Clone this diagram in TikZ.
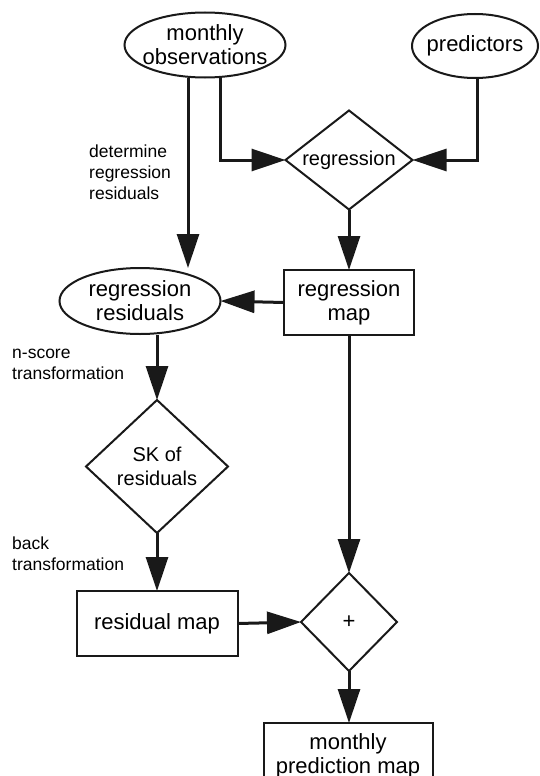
\documentclass[tikz,border=0pt]{standalone}
\usepackage{fontspec}
\setmainfont{Liberation Sans}
\usetikzlibrary{arrows.meta,shapes.geometric}
\begin{document}
\begin{tikzpicture}[x=1pt,y=-1pt,
  shp/.style={draw=black!90, line width=2pt, inner sep=0pt, outer sep=0pt},
  ell/.style={shp, ellipse},
  box/.style={shp, rectangle},
  dia/.style={shp, diamond},
  lab/.style={align=center, font=\fontsize{22}{24}\selectfont, inner sep=0pt},
  dlab/.style={align=center, font=\fontsize{20}{24}\selectfont, inner sep=0pt},
  note/.style={align=left, font=\fontsize{17.5}{21}\selectfont, inner sep=0pt, anchor=west},
  arr/.style={line width=3pt, draw=black!90, -{Triangle[length=34pt,width=22pt]}}
]
\useasboundingbox (0,0) rectangle (539,776);

\node[ell, minimum width=161pt, minimum height=65pt,
      label={[lab]center:{monthly\\observations}}] (obs) at (205,45) {};
\node[ell, minimum width=126pt, minimum height=64pt,
      label={[lab]center:{predictors}}] (pred) at (475,46) {};
\node[dia, minimum width=127pt, minimum height=99pt,
      label={[dlab]center:{regression}}] (reg) at (349,160) {};
\node[ell, minimum width=161pt, minimum height=66pt,
      label={[lab]center:{regression\\residuals}}] (res) at (140,301) {};
\node[box, minimum width=130pt, minimum height=65pt,
      label={[lab]center:{regression\\map}}] (regmap) at (349,302.5) {};
\node[dia, minimum width=142pt, minimum height=133pt,
      label={[dlab]center:{SK of\\residuals}}] (sk) at (157,466.5) {};
\node[box, minimum width=161pt, minimum height=65pt,
      label={[lab]center:{residual map}}] (resmap) at (157,623.5) {};
\node[dia, minimum width=96pt, minimum height=98pt,
      label={[lab]center:{+}}] (plus) at (349,622) {};
\node[box, minimum width=169pt, minimum height=65pt,
      label={[lab]center:{monthly\\prediction map}}] (pm) at (348,755.5) {};

\node[note] (n1) at (89,172) {determine\\regression\\residuals};
\node[note] (n2) at (12,364) {n-score\\transformation};
\node[note] (n3) at (12,554) {back\\transformation};

\draw[arr] ([xshift=-17pt]obs.south) -- ([xshift=48pt]res.north);
\draw[arr] ([xshift=15pt]obs.south) |- (reg.west);
\draw[arr] ([xshift=2pt]pred.south) |- (reg.east);
\draw[arr] (reg.south) -- (regmap.north);
\draw[arr] (regmap.west) -- (res.east);
\draw[arr] ([xshift=17pt,yshift=-0.7pt]res.south) -- (sk.north);
\draw[arr] (sk.south) -- (resmap.north);
\draw[arr] (regmap.south) -- (plus.north);
\draw[arr] (resmap.east) -- (plus.west);
\draw[arr] (plus.south) -- ([xshift=1pt]pm.north);
\end{tikzpicture}
\end{document}
